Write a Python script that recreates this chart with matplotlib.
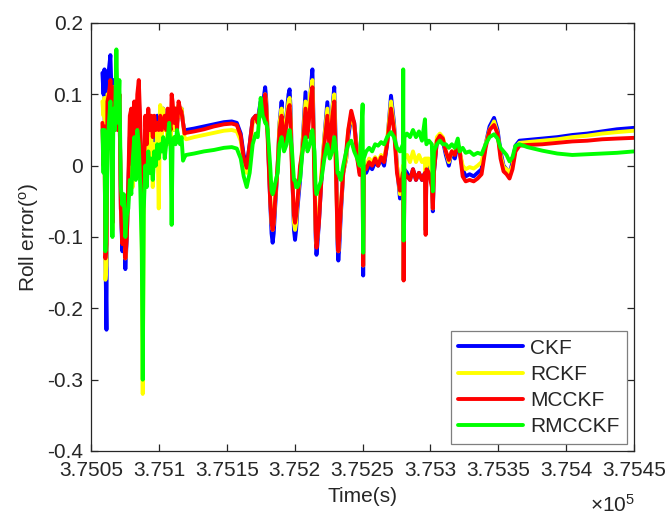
import matplotlib
matplotlib.use("Agg")
import matplotlib.pyplot as plt

plt.rcParams['font.family'] = ['Liberation Sans', 'DejaVu Sans']
plt.rcParams['mathtext.fontset'] = 'custom'
plt.rcParams['mathtext.rm'] = 'Liberation Sans'
plt.rcParams['mathtext.it'] = 'Liberation Sans'
plt.rcParams['axes.unicode_minus'] = False

# ---- data ----
# early, highly dynamic part
time_early = [375058.4, 375059.2, 375059.9, 375060.6, 375061.4, 375062.1, 375063.2, 375064.3, 375065.0, 375065.8,
              375066.5, 375067.6, 375068.7, 375069.8, 375070.9, 375072.0, 375073.1, 375074.2, 375075.3, 375076.4,
              375077.5, 375078.6, 375079.7, 375080.8, 375081.9, 375083.0, 375084.1, 375085.2, 375086.3, 375087.4,
              375088.1, 375088.9, 375090.0, 375091.1, 375092.2, 375093.3, 375094.4, 375095.5, 375096.6, 375097.7,
              375098.8, 375099.9, 375101.0, 375102.1, 375103.2, 375104.3, 375105.4, 375106.5, 375107.6, 375108.7,
              375109.4, 375110.1, 375111.2, 375112.3, 375113.4, 375114.5, 375115.6, 375116.7, 375117.8, 375118.9,
              375120.0, 375125.9, 375133.2, 375140.5, 375147.9, 375153.7, 375157.4, 375160.3, 375162.5, 375164.7,
              375166.9, 375169.1, 375171.3, 375172.8]
ckf_early = [0.13, 0.10, 0.135, -0.12, -0.23, 0.13, 0.135, 0.155, 0.11, -0.08,
             0.12, 0.09, 0.12, 0.05, 0.10, -0.06, -0.12, -0.08, -0.145, -0.10,
             -0.03, 0.04, 0.05, -0.02, 0.06, 0.02, 0.07, 0.10, 0.03, -0.06,
             -0.08, -0.02, 0.05, 0.02, 0.06, 0.03, 0.05, 0.02, 0.06, 0.04,
             0.07, 0.05, 0.08, 0.05, 0.08, 0.06, 0.07, 0.05, 0.07, 0.05,
             0.06, 0.07, 0.05, 0.08, 0.06, 0.08, 0.07, 0.08, 0.06, 0.048,
             0.05, 0.052, 0.055, 0.058, 0.061, 0.062, 0.060, 0.045, 0.015, 0.0,
             0.03, 0.065, 0.07, 0.065]
rckf_early = [0.09, 0.07, 0.095, -0.16, -0.14, 0.10, 0.10, 0.11, 0.08, -0.09,
              0.11, 0.09, 0.12, 0.05, 0.10, -0.06, -0.10, -0.07, -0.13, -0.09,
              -0.04, 0.03, 0.04, -0.03, 0.05, 0.0, 0.06, 0.08, 0.02, -0.10,
              -0.32, -0.05, 0.02, -0.02, 0.04, 0.01, 0.05, -0.03, 0.03, 0.0,
              0.06, -0.06, 0.085, 0.04, 0.08, 0.05, 0.06, 0.03, 0.06, 0.04,
              0.06, 0.07, 0.05, 0.08, 0.06, 0.085, 0.07, 0.08, 0.06, 0.04,
              0.037, 0.040, 0.043, 0.046, 0.049, 0.050, 0.048, 0.035, 0.005, -0.01,
              0.02, 0.06, 0.065, 0.06]
mcckf_early = [0.06, 0.0, 0.055, -0.13, -0.11, 0.09, 0.10, 0.12, 0.10, -0.08,
               0.11, 0.08, 0.12, 0.05, 0.10, -0.06, -0.11, -0.07, -0.13, -0.10,
               -0.02, 0.07, 0.08, 0.0, 0.09, 0.02, 0.10, 0.12, 0.06, -0.05,
               -0.09, -0.02, 0.07, 0.03, 0.08, 0.05, 0.07, 0.04, 0.07, 0.05,
               0.06, 0.05, 0.07, 0.05, 0.06, 0.07, 0.05, 0.08, 0.06, 0.05,
               0.10, 0.09, 0.06, 0.08, 0.05, 0.09, 0.08, 0.075, 0.06, 0.045,
               0.046, 0.048, 0.051, 0.055, 0.058, 0.059, 0.057, 0.042, 0.010, -0.003,
               0.03, 0.065, 0.07, 0.06]
rmcckf_early = [0.05, -0.01, 0.05, -0.12, -0.08, 0.02, 0.06, 0.09, 0.03, -0.10,
                0.08, 0.05, 0.163, 0.06, 0.12, -0.03, -0.055, -0.04, -0.10, -0.07,
                -0.06, -0.02, -0.04, 0.01, 0.04, -0.02, 0.05, 0.03, -0.03, -0.12,
                -0.30, -0.06, 0.0, -0.03, 0.02, -0.01, 0.01, -0.02, 0.02, 0.0,
                0.03, 0.01, 0.03, 0.02, 0.04, 0.01, 0.03, 0.04, 0.06, 0.02,
                -0.083, 0.03, 0.04, 0.03, 0.05, 0.04, 0.03, 0.04, 0.007, 0.012,
                0.015, 0.017, 0.020, 0.022, 0.025, 0.026, 0.024, 0.010, -0.015, -0.030,
                -0.01, 0.03, 0.045, 0.04]

# middle oscillating part
time_mid = [375175.0, 375176.5, 375177.6, 375178.3, 375179.0, 375180.1, 375182.0, 375183.0, 375183.8, 375184.6,
            375185.6, 375187.5, 375188.9, 375190.4, 375192.2, 375194.1, 375195.5, 375196.3, 375197.0, 375198.1,
            375199.5, 375200.3, 375201.1, 375202.1, 375204.0, 375205.8, 375208.0, 375209.5, 375211.3, 375212.4,
            375213.1, 375214.6, 375215.5, 375216.1, 375216.8, 375217.9, 375219.7, 375221.9, 375224.1, 375225.9,
            375227.8, 375229.2, 375230.7, 375231.6, 375232.2, 375232.9, 375234.0, 375235.8]
ckf_mid = [0.09, 0.08, 0.10, 0.11, 0.095, 0.05, -0.05, -0.095, -0.108, -0.095,
           -0.06, 0.0, 0.06, 0.09, 0.03, 0.07, 0.10, 0.107, 0.08, 0.0,
           -0.09, -0.104, -0.09, -0.06, -0.02, 0.03, 0.103, 0.05, 0.09, 0.12,
           0.135, 0.0, -0.10, -0.125, -0.11, -0.08, -0.02, 0.04, 0.089, 0.03,
           0.08, 0.11, 0.0, -0.11, -0.133, -0.115, -0.07, -0.01]
rckf_mid = [0.085, 0.075, 0.09, 0.10, 0.09, 0.05, -0.04, -0.08, -0.09, -0.08,
            -0.05, 0.0, 0.06, 0.08, 0.03, 0.07, 0.09, 0.095, 0.07, 0.0,
            -0.08, -0.09, -0.08, -0.05, -0.01, 0.03, 0.09, 0.05, 0.10, 0.11,
            0.12, 0.0, -0.09, -0.11, -0.10, -0.07, -0.01, 0.04, 0.08, 0.03,
            0.08, 0.10, -0.02, -0.10, -0.12, -0.10, -0.06, -0.01]
mcckf_mid = [0.085, 0.07, 0.09, 0.10, 0.085, 0.04, -0.05, -0.08, -0.09, -0.08,
             -0.05, 0.0, 0.05, 0.07, 0.03, 0.06, 0.08, 0.085, 0.06, -0.01,
             -0.07, -0.08, -0.07, -0.05, 0.0, 0.02, 0.08, 0.04, 0.08, 0.10,
             0.11, -0.02, -0.09, -0.115, -0.10, -0.08, -0.02, 0.03, 0.07, 0.02,
             0.07, 0.09, -0.03, -0.10, -0.12, -0.10, -0.06, -0.01]
rmcckf_mid = [0.095, 0.07, 0.065, 0.06, 0.06, 0.05, 0.0, -0.035, -0.04, -0.035,
              -0.025, -0.01, 0.03, 0.04, 0.02, 0.03, 0.045, 0.05, 0.04, 0.02,
              -0.02, -0.02, -0.03, -0.03, -0.02, 0.02, 0.04, 0.02, 0.03, 0.045,
              0.05, 0.02, -0.03, -0.04, -0.035, -0.03, -0.02, 0.01, 0.03, 0.01,
              0.02, 0.04, 0.02, -0.01, -0.01, -0.015, -0.02, 0.0]

# late part
time_late = [375238.0,
             375239.5, 375241.7, 375243.9, 375246.1, 375247.9, 375250.1, 375250.5, 375250.9, 375252.7, 375254.9,
             375257.1, 375259.3, 375261.5, 375263.7, 375265.9, 375268.1, 375271.0, 375273.2, 375275.4, 375277.6,
             375279.8, 375280.0, 375280.3, 375280.9, 375282.8, 375285.0, 375287.2, 375289.4, 375291.6, 375293.8,
             375296.0, 375296.5, 375297.1, 375298.9, 375301.1, 375301.8, 375302.6, 375304.8, 375307.0, 375309.2,
             375311.4, 375313.6, 375315.8, 375318.0, 375320.2, 375321.6, 375323.8, 375326.0, 375328.9, 375331.9,
             375334.8, 375337.7, 375340.7, 375343.6, 375346.9, 375349.5, 375351.7, 375353.9, 375356.1, 375358.3,
             375360.5, 375362.7, 375365.6, 375371.5, 375382.5, 375393.5, 375404.5, 375415.5, 375426.5, 375437.4,
             375450.0]
ckf_late = [0.01,
            0.04, 0.07, 0.06, 0.02, -0.01, 0.0, -0.154, 0.0, -0.01, 0.0,
            -0.005, 0.005, 0.0, 0.01, 0.0, 0.03, 0.098, 0.06, 0.0, -0.046,
            -0.01, -0.01, -0.16, -0.005, -0.01, -0.02, -0.005, -0.02, -0.01, -0.02,
            -0.01, -0.09, 0.0, 0.0, -0.02, -0.064, -0.01, 0.035, 0.04, 0.035,
            0.015, 0.0, 0.02, 0.01, 0.03, 0.02, -0.005, -0.015, -0.012, -0.015,
            -0.01, -0.005, 0.03, 0.055, 0.067, 0.05, 0.02, 0.0, -0.005, -0.012,
            0.005, 0.028, 0.035, 0.036, 0.038, 0.040, 0.043, 0.045, 0.048, 0.051,
            0.053]
rckf_late = [0.01,
             0.05, 0.07, 0.055, 0.02, -0.01, 0.0, -0.14, 0.0, 0.0, 0.01,
             0.005, 0.012, 0.005, 0.015, 0.008, 0.035, 0.09, 0.055, 0.0, -0.04,
             0.0, 0.0, -0.16, 0.01, 0.015, 0.005, 0.02, 0.005, 0.015, 0.005,
             0.01, -0.09, 0.01, 0.01, -0.01, -0.06, 0.0, 0.04, 0.045, 0.04,
             0.02, 0.005, 0.02, 0.02, 0.03, 0.02, 0.0, -0.005, -0.002, -0.004,
             0.0, 0.005, 0.03, 0.05, 0.062, 0.045, 0.015, -0.002, -0.005, -0.01,
             0.0, 0.025, 0.032, 0.033, 0.035, 0.037, 0.040, 0.042, 0.045, 0.047,
             0.049]
mcckf_late = [0.02,
              0.05, 0.077, 0.06, 0.01, -0.013, -0.005, -0.14, 0.0, -0.005, 0.005,
              0.0, 0.01, 0.0, 0.012, 0.005, 0.03, 0.08, 0.05, -0.01, -0.035,
              -0.01, -0.01, -0.161, -0.01, -0.015, -0.02, -0.005, -0.02, -0.01, -0.02,
              -0.01, -0.097, -0.005, -0.01, -0.03, -0.06, -0.01, 0.035, 0.042, 0.038,
              0.02, 0.008, 0.02, 0.015, 0.03, 0.02, -0.015, -0.022, -0.02, -0.022,
              -0.018, -0.012, 0.025, 0.05, 0.057, 0.045, 0.01, -0.008, -0.012, -0.018,
              -0.005, 0.02, 0.028, 0.029, 0.030, 0.032, 0.034, 0.035, 0.037, 0.038,
              0.039]
rmcckf_late = [0.02,
               0.03, 0.035, 0.02, 0.01, 0.0, 0.086, -0.122, 0.01, 0.02, 0.025,
               0.02, 0.03, 0.028, 0.033, 0.03, 0.04, 0.047, 0.04, 0.025, 0.02,
               0.03, 0.135, -0.105, 0.04, 0.045, 0.04, 0.05, 0.04, 0.048, 0.035,
               0.065, 0.04, 0.03, 0.035, 0.03, -0.036, 0.02, 0.03, 0.035, 0.03,
               0.03, 0.025, 0.03, 0.025, 0.038, 0.02, 0.025, 0.018, 0.02, 0.015,
               0.018, 0.016, 0.03, 0.04, 0.044, 0.038, 0.025, 0.02, 0.015, 0.006,
               0.012, 0.028, 0.030, 0.026, 0.021, 0.017, 0.015, 0.016, 0.017, 0.018,
               0.020]

time = time_early + time_mid + time_late
ckf = ckf_early + ckf_mid + ckf_late
rckf = rckf_early + rckf_mid + rckf_late
mcckf = mcckf_early + mcckf_mid + mcckf_late
rmcckf = rmcckf_early + rmcckf_mid + rmcckf_late

series_names = ['CKF', 'RCKF', 'MCCKF', 'RMCCKF']
series_colors = ['#0000ff', '#ffff00', '#ff0000', '#00ff00']

x_ticks = [375050, 375100, 375150, 375200, 375250, 375300, 375350, 375400, 375450]
x_tick_labels = ['3.7505', '3.751', '3.7515', '3.752', '3.7525', '3.753', '3.7535', '3.754', '3.7545']
y_ticks = [-0.4, -0.3, -0.2, -0.1, 0.0, 0.1, 0.2]
y_tick_labels = ['-0.4', '-0.3', '-0.2', '-0.1', '0', '0.1', '0.2']

# ---- figure ----
fig = plt.figure(figsize=(6.70, 5.17), dpi=100)
ax = fig.add_axes([91 / 670, 1 - 451 / 517, (634 - 91) / 670, (451 - 23) / 517])

text_col = '#262626'
for vals, name, col in zip([ckf, rckf, mcckf, rmcckf], series_names, series_colors):
    ax.plot(time, vals, color=col, linewidth=2.8, label=name,
            solid_joinstyle='round', solid_capstyle='round')

ax.set_xlim(375050, 375450)
ax.set_ylim(-0.4, 0.2)
ax.set_xticks(x_ticks)
ax.set_xticklabels(x_tick_labels)
ax.set_yticks(y_ticks)
ax.set_yticklabels(y_tick_labels)

ax.tick_params(axis='both', which='both', direction='in', length=5, width=0.9,
               top=True, right=True, labelsize=15, colors=text_col)
ax.tick_params(axis='x', pad=7)
ax.tick_params(axis='y', pad=6)
for sp in ax.spines.values():
    sp.set_color(text_col)
    sp.set_linewidth(0.9)

ax.set_xlabel('Time(s)', fontsize=15, color=text_col, labelpad=5)
ax.set_ylabel(r'Roll error($^{\rm o}$)', fontsize=15, color=text_col, labelpad=4)

fig.text(0.948, 0.002, r'$\times$10$^{5}$', fontsize=15, color=text_col, ha='right', va='bottom')

leg = ax.legend(loc='lower right', fontsize=15, handlelength=3.1, handletextpad=0.35,
                labelspacing=0.35, borderpad=0.35, borderaxespad=0.35,
                fancybox=False, framealpha=1, edgecolor='#7f7f7f')
leg.get_frame().set_linewidth(0.9)
for t in leg.get_texts():
    t.set_color(text_col)

fig.savefig('out.png', dpi=100)
